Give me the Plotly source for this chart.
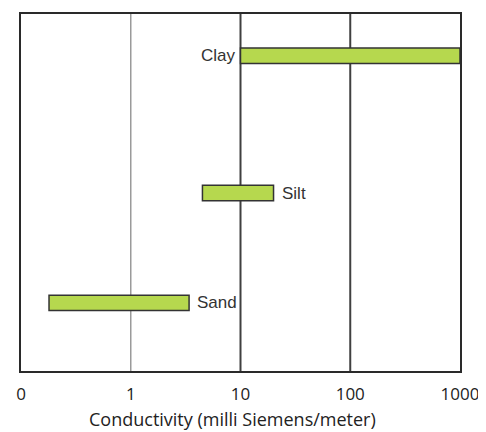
import math
import plotly.graph_objects as go

soils = ["Sand", "Silt", "Clay"]
low = [0.18, 4.5, 10]
high = [3.4, 20, 1000]
ypos = [1, 2, 3.25]

tick_vals = [0.1, 1, 10, 100, 1000]
tick_text = ["0", "1", "10", "100", "1000"]
x_title = "Conductivity (milli Siemens/meter)"

fig = go.Figure()
fig.add_trace(go.Bar(
    y=ypos, base=low, x=[h - l for h, l in zip(high, low)],
    orientation="h", width=0.14,
    marker=dict(color="#b6d84e", line=dict(color="#333333", width=1.5)),
    hoverinfo="skip",
))

lab_font = dict(family="Liberation Sans, Arial", size=17, color="#333333")
for s, l, h, y in zip(soils, low, high, ypos):
    if s == "Clay":
        fig.add_annotation(x=math.log10(l), y=y, text=s, showarrow=False,
                           xanchor="right", xshift=-3, font=lab_font)
    else:
        fig.add_annotation(x=math.log10(h), y=y, text=s, showarrow=False,
                           xanchor="left", xshift=6, font=lab_font)

fig.add_annotation(x=0.481, y=0, xref="paper", yref="paper", text=x_title,
                   showarrow=False, xanchor="center", yanchor="middle", yshift=-48,
                   borderpad=0,
                   font=dict(family="Open Sans", size=18, color="#222222"))

for v, c, w in [(1, "#9a9a9a", 1.5), (10, "#404040", 2), (100, "#404040", 2)]:
    fig.add_shape(type="line", xref="x", yref="paper", x0=v, x1=v, y0=0, y1=1,
                  line=dict(color=c, width=w), layer="below")

fig.update_layout(
    width=486, height=432,
    margin=dict(l=13, r=34, t=6, b=69),
    plot_bgcolor="white", paper_bgcolor="white",
    showlegend=False,
    xaxis=dict(type="log", range=[-1, 3], tickvals=tick_vals, ticktext=tick_text,
               showgrid=False, zeroline=False, showline=True, mirror=True,
               linecolor="#2a2a2a", linewidth=2, ticks="", automargin=False,
               ticklabelstandoff=7,
               tickfont=dict(family="Open Sans", size=17, color="#222222")),
    yaxis=dict(range=[0.38, 3.63], showgrid=False, zeroline=False, showticklabels=False,
               showline=True, mirror=True, linecolor="#2a2a2a", linewidth=2, ticks="",
               automargin=False),
)

fig.write_html("out.html")
